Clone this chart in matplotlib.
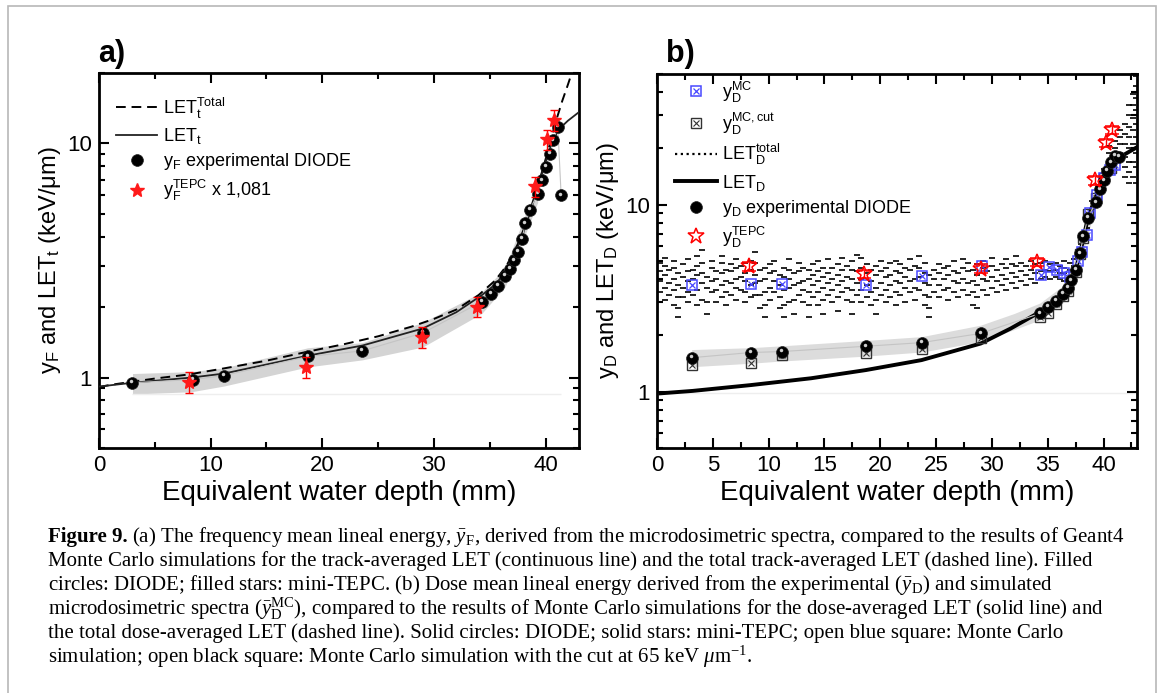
import numpy as np
import matplotlib
matplotlib.use("Agg")
import matplotlib.pyplot as plt
import matplotlib.transforms as mtransforms
from matplotlib.lines import Line2D
from matplotlib.patches import Rectangle
from matplotlib.legend_handler import HandlerTuple
from matplotlib.ticker import FixedLocator, MultipleLocator, LogLocator, NullFormatter, FuncFormatter

plt.rcParams['font.family'] = ['Liberation Sans', 'DejaVu Sans']
plt.rcParams['mathtext.fontset'] = 'custom'
plt.rcParams['mathtext.rm'] = 'Liberation Sans'
plt.rcParams['mathtext.it'] = 'Liberation Serif:italic'
plt.rcParams['mathtext.default'] = 'regular'

# ---------------- panel a ----------------
LETT_TOT_X = [0, 1, 3, 5, 8, 11, 15, 18.7, 22, 25, 28, 30, 32, 34, 35.5, 36.5, 37.5, 38.3, 39, 39.7, 40.3, 40.9, 41.5, 42.0, 42.5]
LETT_TOT_Y = [0.91, 0.93, 0.96, 0.99, 1.03, 1.09, 1.18, 1.29, 1.39, 1.5, 1.65, 1.78, 1.95, 2.25, 2.6, 3.0, 3.7, 4.6, 5.9, 7.6, 9.6, 12.3, 15.2, 17.8, 21.0]
LETT_X = [0, 3, 8.3, 11.2, 18.7, 23.6, 29, 32, 34.3, 35.5, 36.5, 37.3, 37.9, 38.5, 39.1, 39.7, 40.3, 40.8, 41.2, 42.0, 42.9]
LETT_Y = [0.915, 0.95, 1.0, 1.04, 1.24, 1.37, 1.62, 1.9, 2.25, 2.5, 2.85, 3.35, 4.0, 4.9, 6.0, 7.5, 9.2, 10.6, 11.5, 12.5, 13.5]

YF_X = [3.0, 8.4, 11.2, 18.7, 23.6, 29.0, 34.3, 35.1, 35.7, 36.4, 36.8, 37.2, 37.5, 37.9, 38.2, 38.6, 39.3, 39.7, 40.0, 40.4, 40.7, 41.1, 41.4]
YF_Y = [0.95, 0.98, 1.02, 1.23, 1.30, 1.55, 2.11, 2.28, 2.47, 2.72, 2.91, 3.17, 3.45, 3.92, 4.57, 5.21, 6.09, 6.97, 7.94, 9.02, 10.3, 11.8, 6.01]

BAND_A_X = [3.0, 8.3, 11.2, 18.7, 23.6, 29.0, 34.3, 36.4, 38.2, 39.3]
BAND_A_LO = [0.85, 0.87, 0.92, 1.11, 1.19, 1.35, 1.88, 2.45, 4.1, 5.6]
BAND_A_HI = [1.04, 1.06, 1.10, 1.34, 1.41, 1.72, 2.32, 2.95, 5.0, 6.6]

TEPC_A_X = [8.1, 18.5, 28.9, 33.9, 39.1, 40.1, 40.75]
TEPC_A_Y = [0.96, 1.11, 1.49, 2.01, 6.56, 10.4, 12.6]
TEPC_A_ERR = [0.1, 0.11, 0.15, 0.2, 0.65, 1.0, 1.3]

# ---------------- panel b ----------------
LETD_X = [0.3, 3.2, 8.4, 13.8, 18.7, 23.7, 29.0, 31.7, 34.3, 35.7, 36.8, 37.5, 37.9, 38.6, 39.3, 40.0, 41.0, 41.9, 43.0]
LETD_Y = [0.98, 1.01, 1.085, 1.18, 1.305, 1.476, 1.81, 2.18, 2.67, 3.08, 3.64, 4.46, 5.5, 8.5, 11.0, 13.2, 16.9, 18.6, 20.3]

YD_X = [3.1, 8.4, 11.2, 18.7, 23.7, 29.0, 34.3, 35.0, 35.7, 36.4, 36.8, 37.1, 37.5, 37.9, 38.2, 38.6, 39.3, 39.7, 40.0, 40.3, 40.7, 41.0, 41.4]
YD_Y = [1.52, 1.62, 1.64, 1.75, 1.83, 2.05, 2.62, 2.84, 3.06, 3.35, 3.6, 3.94, 4.5, 5.5, 6.8, 8.5, 10.3, 12.1, 13.5, 15.2, 16.9, 18.3, 18.1]

MC_X = [3.1, 8.4, 11.2, 18.7, 23.7, 29.1, 34.4, 35.1, 35.8, 36.5, 37.0, 37.7, 38.1, 38.5, 38.8, 39.4, 40.0, 40.6, 41.0]
MC_Y = [3.74, 3.76, 3.76, 3.71, 4.16, 4.68, 4.2, 4.67, 4.45, 4.3, 4.1, 4.97, 5.6, 6.9, 9.0, 11.3, 13.9, 15.3, 16.3]

MCCUT_X = [3.1, 8.4, 11.2, 18.7, 23.7, 29.0, 34.3, 35.0, 35.7, 36.4, 36.8, 37.5, 37.9, 38.2, 38.6, 39.3, 40.0, 40.7]
MCCUT_Y = [1.39, 1.43, 1.57, 1.61, 1.70, 1.93, 2.51, 2.64, 2.95, 3.25, 3.45, 4.35, 5.45, 6.6, 8.9, 10.9, 13.9, 15.8]

BAND_B_X = [3.1, 8.4, 11.2, 18.7, 23.7, 29.0, 32.0, 34.3, 36.4, 37.9, 39.3, 40.5]
BAND_B_LO = [1.36, 1.42, 1.46, 1.55, 1.63, 1.85, 2.15, 2.42, 3.0, 4.9, 9.8, 14.5]
BAND_B_HI = [1.68, 1.72, 1.76, 1.88, 1.97, 2.27, 2.62, 2.98, 3.7, 6.0, 11.8, 17.0]

TEPC_B_X = [8.2, 18.5, 29.0, 34.0, 39.2, 40.2, 40.8]
TEPC_B_Y = [4.68, 4.28, 4.55, 4.94, 13.5, 21.4, 25.2]
TEPC_B_ERR = [0.25, 0.22, 0.25, 0.26, 0.7, 1.1, 1.3]

# total dose-averaged LET (very noisy): y values read column by column
LETD_TOT_X = [0.3, 0.7, 1.1, 1.5, 1.9, 2.3, 2.8, 3.2, 3.6, 4.0, 4.5, 4.9, 5.3, 5.8, 6.2, 6.6, 7.1, 7.5,
              7.9, 8.4, 8.8, 9.2, 9.7, 10.1, 10.5, 11.0, 11.4, 11.8, 12.3, 12.7, 13.1, 13.6, 14.0, 14.4,
              14.9, 15.3, 15.7, 16.2, 16.6, 17.0, 17.5, 17.9, 18.3, 18.8, 19.2, 19.6, 20.1, 20.5, 20.9,
              21.4, 21.8, 22.2, 22.7, 23.1, 23.5, 24.0, 24.4, 24.8, 25.3, 25.7, 26.1, 26.6, 27.0, 27.4,
              27.9, 28.3, 28.7, 29.2, 29.6, 30.0, 30.5, 30.9, 31.3, 31.8, 32.2, 32.6, 33.1, 33.5, 33.9,
              34.4, 34.8, 35.2, 35.7, 36.1, 36.5, 37.0, 37.4, 38.0, 38.5, 39.0, 39.5, 40.0, 40.5, 41.0,
              41.5, 41.9, 42.3, 42.6, 42.9]
LETD_TOT_Y = [
    [3.4, 3.9, 4.4, 4.9], [3.1, 3.6, 4.2, 4.7, 5.2], [3.3, 3.8, 4.5], [2.9, 3.5, 4.0, 4.6, 5.0],
    [2.5, 2.8, 3.2, 3.7, 4.3], [3.2, 3.6, 4.1, 4.8], [3.0, 3.4, 3.9, 4.4, 5.1], [3.3, 4.0, 4.5],
    [2.9, 3.5, 4.2, 4.7, 5.3], [3.1, 3.8, 4.3, 4.9, 5.7], [2.6, 3.0, 3.6, 4.1], [3.4, 3.9, 4.6, 5.0],
    [3.0, 3.5, 4.0, 4.4], [3.2, 3.7, 4.3, 4.9, 5.3], [2.9, 3.4, 3.9, 4.5], [3.3, 3.8, 4.4, 4.8],
    [3.1, 3.6, 4.0, 4.6, 5.1], [3.5, 4.1, 4.7], [3.0, 3.4, 3.9, 4.3, 4.9], [3.2, 3.7, 4.5, 5.0],
    [3.3, 3.8, 4.2, 4.9, 5.6], [2.8, 3.3, 3.9, 4.5], [2.5, 2.9, 3.4, 4.0, 4.6], [3.1, 3.6, 4.3, 4.8],
    [3.4, 3.9, 4.4, 5.0], [2.8, 3.2, 3.7, 4.2], [2.5, 2.9, 3.5, 4.1, 4.6], [3.0, 3.6, 4.0, 4.5, 5.1],
    [2.6, 3.1, 3.7, 4.3], [3.3, 3.8, 4.4, 4.9], [3.0, 3.5, 3.9, 4.6], [2.5, 2.9, 3.4, 4.0, 4.5],
    [3.2, 3.7, 4.2, 4.8], [2.9, 3.4, 3.9, 4.4, 5.0], [2.6, 3.1, 3.6, 4.1, 4.6], [3.3, 3.8, 4.3, 5.1],
    [3.0, 3.5, 4.0, 4.6], [2.7, 3.2, 3.7, 4.2, 4.8], [3.4, 3.9, 4.5, 5.2], [3.1, 3.6, 4.1, 4.7],
    [2.6, 3.0, 3.5, 4.0, 4.5, 5.0], [3.3, 3.8, 4.4, 5.4], [3.0, 3.5, 4.0, 4.6, 5.2], [3.2, 3.7, 4.3, 4.8],
    [2.9, 3.4, 3.9, 4.5], [2.6, 3.1, 3.6, 4.2, 4.7], [3.3, 3.8, 4.4, 5.0], [3.0, 3.5, 4.1, 4.6],
    [3.2, 3.7, 4.2, 4.9], [2.9, 3.4, 3.9, 4.4, 5.0], [3.3, 3.8, 4.3, 4.8], [3.0, 3.6, 4.1, 4.6],
    [3.4, 3.9, 4.5, 5.1], [3.1, 3.6, 4.0, 4.7], [3.5, 4.1, 4.6, 5.3], [2.9, 3.3, 3.8, 4.3, 4.9],
    [2.5, 2.8, 3.2, 3.7, 4.2], [3.4, 4.0, 4.5], [3.2, 3.7, 4.3, 4.8], [3.5, 4.0, 4.6],
    [3.1, 3.6, 4.2, 4.7], [3.4, 3.9, 4.4, 5.0], [3.2, 3.8, 4.3], [3.5, 4.0, 4.6, 5.1],
    [3.3, 3.8, 4.4, 4.9], [2.9, 3.4, 3.9, 4.5], [2.8, 3.2, 3.7, 4.2, 4.8], [3.5, 4.0, 4.6, 5.0],
    [3.3, 3.9, 4.4], [3.6, 4.1, 4.7, 5.2], [3.4, 3.9, 4.5], [3.7, 4.2, 4.8],
    [3.5, 4.0, 4.6, 5.1], [3.8, 4.3, 4.8], [3.6, 4.1, 4.7, 5.3], [3.9, 4.4, 4.9],
    [3.7, 4.2, 4.7], [4.0, 4.5, 5.0], [3.8, 4.3, 4.8], [4.0, 4.4, 4.9], [4.1, 4.5, 5.0],
    [4.0, 4.4, 4.8], [4.1, 4.5, 4.9], [4.0, 4.3, 4.7], [3.9, 4.3, 4.6, 5.0], [4.1, 4.5, 4.9],
    [4.3, 4.7, 5.1], [5.5, 6.2], [7.5, 8.3], [9.5, 10.5], [11.5, 12.5], [14.0, 15.5],
    [17.0, 19.0, 20.5], [18.0, 20.0, 22.0], [19.0, 21.0, 23.0, 25.0], [14.0, 16.0, 18.0, 21.0, 24.0, 27.0],
    [13.0, 15.0, 17.0, 20.0, 23.0, 26.0, 30.0, 34.0], [14.0, 17.0, 21.0, 25.0, 29.0, 34.0, 39.0],
    [13.0, 16.0, 19.0, 23.0, 27.0, 32.0, 37.0, 43.0, 49.0],
]

CAPTION_LINES = [
    r"(a) The frequency mean lineal energy, $\bar{\mathit{y}}_{F}$, derived from the microdosimetric spectra, compared to the results of Geant4",
    r"Monte Carlo simulations for the track-averaged LET (continuous line) and the total track-averaged LET (dashed line). Filled",
    r"circles: DIODE; filled stars: mini-TEPC. (b) Dose mean lineal energy derived from the experimental ($\bar{\mathit{y}}_{D}$) and simulated",
    r"microdosimetric spectra ($\bar{\mathit{y}}_{D}^{MC}$), compared to the results of Monte Carlo simulations for the dose-averaged LET (solid line) and",
    r"the total dose-averaged LET (dashed line). Solid circles: DIODE; solid stars: mini-TEPC; open blue square: Monte Carlo",
    r"simulation; open black square: Monte Carlo simulation with the cut at 65 keV $\mathit{\mu}$m$^{-1}$.",
]

W, H = 1165, 693
fig = plt.figure(figsize=(W / 100, H / 100), dpi=100)
ax_a = fig.add_axes([99 / W, 1 - 448 / H, 480 / W, 375 / H])
ax_b = fig.add_axes([657 / W, 1 - 448 / H, 480 / W, 374 / H])


def style_axes(ax, ytop, xminor):
    ax.set_yscale('log')
    ax.set_xlim(0, 43)
    ax.set_ylim(0.5, ytop)
    ax.xaxis.set_major_locator(MultipleLocator(2 * xminor))
    ax.xaxis.set_minor_locator(MultipleLocator(xminor))
    ax.yaxis.set_major_locator(FixedLocator([1, 10]))
    ax.yaxis.set_major_formatter(FuncFormatter(lambda v, p: f'{v:g}'))
    ax.yaxis.set_minor_locator(LogLocator(base=10, subs=np.arange(2, 10)))
    ax.yaxis.set_minor_formatter(NullFormatter())
    ax.tick_params(which='both', direction='in', top=True, right=True, width=1.5, labelsize=16, pad=5)
    ax.tick_params(which='major', length=7)
    ax.tick_params(which='minor', length=4)
    for s in ax.spines.values():
        s.set_linewidth(2)
    ax.set_xlabel('Equivalent water depth (mm)', fontsize=20, labelpad=3)


def spheres(ax, x, y):
    base, = ax.plot(x, y, 'o', color='black', ms=8.5, mec='#222222', mew=0.5, zorder=5)
    hl_tr = mtransforms.offset_copy(ax.transData, fig=fig, x=-1.0, y=1.5, units='dots')
    hl, = ax.plot(x, y, 'o', color='#cfcfcf', ms=2.5, mew=0, transform=hl_tr, zorder=6)
    return base


legend_kw = dict(loc='upper left', frameon=False, fontsize=13, handlelength=2.3, handletextpad=0.3,
                 labelspacing=0.3, borderpad=0, borderaxespad=0,
                 handler_map={tuple: HandlerTuple(ndivide=1, pad=0)})

# ---- panel a ----
style_axes(ax_a, 20, 5)
ax_a.fill_between(BAND_A_X, BAND_A_LO, BAND_A_HI, color='#d4d4d4', lw=0, zorder=1)
ax_a.hlines(BAND_A_LO[0], YF_X[0], YF_X[-1], color='#eeeeee', lw=1, zorder=1)
h_tot, = ax_a.plot(LETT_TOT_X, LETT_TOT_Y, color='black', lw=1.4, ls=(0, (5, 3)), zorder=3)
h_let, = ax_a.plot(LETT_X, LETT_Y, color='#222222', lw=1.3, zorder=3)
ax_a.plot(YF_X, YF_Y, color='#c4c4c4', lw=0.8, zorder=4)
h_yf = spheres(ax_a, YF_X, YF_Y)
eb_a = ax_a.errorbar(TEPC_A_X, TEPC_A_Y, yerr=TEPC_A_ERR, fmt='*', color='#ff1a1a', ms=10,
                     ecolor='red', elinewidth=1, capsize=3, capthick=1, zorder=7)
ax_a.set_ylabel('y$_F$ and LET$_t$ (keV/\u03bcm)', fontsize=17)
ax_a.yaxis.set_label_coords(-0.075, 0.5)
ax_a.legend([h_tot, h_let, h_yf, eb_a[0]],
            ['LET$_t^{Total}$', 'LET$_t$', 'y$_F$ experimental DIODE', 'y$_F^{TEPC}$ x 1,081'],
            bbox_to_anchor=(0.035, 0.94), **legend_kw)

# ---- panel b ----
style_axes(ax_b, 50, 2.5)
ax_b.fill_between(BAND_B_X, BAND_B_LO, BAND_B_HI, color='#dcdcdc', lw=0, zorder=1)
ax_b.hlines(LETD_Y[0], 0, 43, color='#eeeeee', lw=1, zorder=1)
tot_x = [x for x, ys in zip(LETD_TOT_X, LETD_TOT_Y) for _ in ys]
tot_y = [y for ys in LETD_TOT_Y for y in ys]
ax_b.plot(tot_x, tot_y, '_', color='black', ms=4.5, mew=1.2, zorder=2)
h_tot_b = Line2D([], [], color='black', lw=1.6, ls=(0, (1, 1.6)))
h_letd, = ax_b.plot(LETD_X, LETD_Y, color='black', lw=2.8, zorder=3)
mc_cut_s, = ax_b.plot(MCCUT_X, MCCUT_Y, 's', mfc='none', mec='#333333', ms=7, mew=1.0, zorder=4)
mc_cut_x, = ax_b.plot(MCCUT_X, MCCUT_Y, 'x', color='#333333', ms=5, mew=0.8, zorder=4)
mc_s, = ax_b.plot(MC_X, MC_Y, 's', mfc='none', mec='#4848ff', ms=7, mew=1.1, zorder=4)
mc_x, = ax_b.plot(MC_X, MC_Y, 'x', color='#4848ff', ms=5, mew=0.9, zorder=4)
ax_b.plot(YD_X, YD_Y, color='#c4c4c4', lw=0.8, zorder=4)
h_yd = spheres(ax_b, YD_X, YD_Y)
eb_b = ax_b.errorbar(TEPC_B_X, TEPC_B_Y, yerr=TEPC_B_ERR, fmt='*', mfc='none', mec='red', ms=12,
                     mew=1.1, ecolor='red', elinewidth=1, capsize=5, capthick=1, zorder=7)
ax_b.set_ylabel('y$_D$ and LET$_D$ (keV/\u03bcm)', fontsize=17)
ax_b.yaxis.set_label_coords(-0.075, 0.5)
ax_b.legend([(mc_s, mc_x), (mc_cut_s, mc_cut_x), h_tot_b, h_letd, h_yd, eb_b[0]],
            ['y$_D^{MC}$', 'y$_D^{MC,cut}$', 'LET$_D^{total}$', 'LET$_D$', 'y$_D$ experimental DIODE', 'y$_D^{TEPC}$'],
            bbox_to_anchor=(0.0375, 0.985), **legend_kw)

# panel letters
fig.text(98 / W, 1 - 62 / H, 'a)', fontsize=22, fontweight='bold', va='baseline')
fig.text(666 / W, 1 - 62 / H, 'b)', fontsize=22, fontweight='bold', va='baseline')

# caption
renderer = fig.canvas.get_renderer()
cap_font = dict(family=['Liberation Serif', 'DejaVu Serif'], fontsize=15, va='center')
head = fig.text(48 / W, 1 - 537 / H, 'Figure 9.', fontweight='bold', **cap_font)
bb = head.get_window_extent(renderer)
for i, line in enumerate(CAPTION_LINES):
    x0 = (bb.x1 + 4) / W if i == 0 else 48 / W
    fig.text(x0, 1 - (537 + 24 * i) / H, line, **cap_font)

fig.add_artist(Rectangle((8 / W, -0.01), (1156 - 8) / W, 1.01 - 6 / H, transform=fig.transFigure,
                         fill=False, ec='#b8b8b8', lw=1.2))

fig.savefig('out.png', dpi=100)
